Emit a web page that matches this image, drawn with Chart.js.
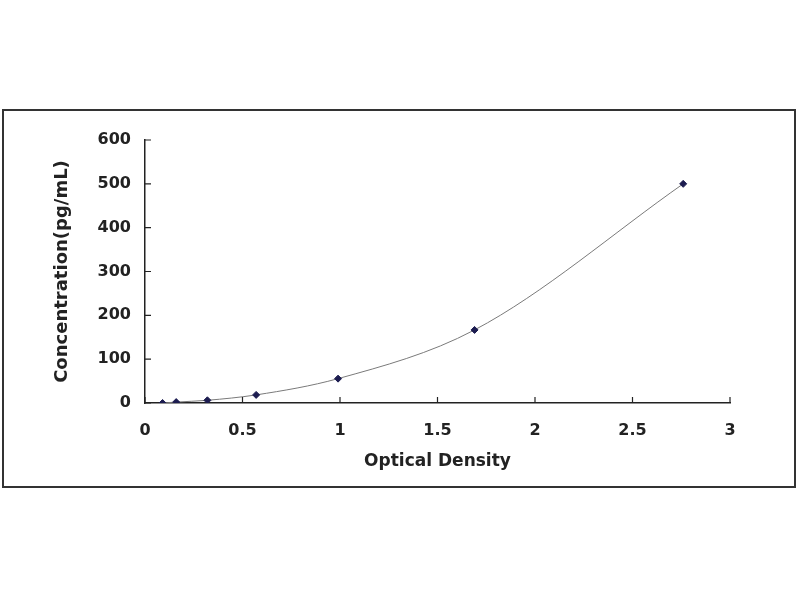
<!DOCTYPE html>
<html>
<head>
<meta charset="utf-8">
<script src="https://cdn.jsdelivr.net/npm/chart.js@4.4.1/dist/chart.umd.min.js"></script>
<style>
  html, body { margin: 0; padding: 0; background: #fff; }
  #wrap { width: 800px; height: 600px; }
</style>
</head>
<body>
<div id="wrap"><canvas id="curve" width="800" height="600"></canvas></div>
<script>
// standard curve points
const opticalDensity = [0.09, 0.16, 0.32, 0.57, 0.99, 1.69, 2.76];
const concentration = [0, 2.1, 6.2, 18.5, 55.6, 166.7, 500];
const xTicks = [0, 0.5, 1, 1.5, 2, 2.5, 3];
const yTicks = [0, 100, 200, 300, 400, 500, 600];

const FONT = 'DejaVu Sans, Verdana, sans-serif';

// outer frame + inward tick marks
const framePlugin = {
  id: 'frame',
  afterDraw(chart) {
    const c = chart.ctx;
    const xs = chart.scales.x, ys = chart.scales.y;
    c.save();
    c.strokeStyle = '#333';
    c.lineWidth = 2;
    c.strokeRect(3, 110, 792, 377);
    c.lineWidth = 1.2;
    c.strokeStyle = '#222';
    c.beginPath();
    xTicks.forEach(v => {
      const px = xs.getPixelForValue(v);
      c.moveTo(px, ys.bottom);
      c.lineTo(px, ys.bottom - 6);
    });
    yTicks.forEach(v => {
      const py = ys.getPixelForValue(v);
      c.moveTo(xs.left, py);
      c.lineTo(xs.left + 6, py);
    });
    c.stroke();
    c.restore();
  }
};

const ctx = document.getElementById('curve').getContext('2d');
new Chart(ctx, {
  type: 'scatter',
  data: {
    datasets: [{
      label: 'Standard',
      data: opticalDensity.map((x, i) => ({ x: x, y: concentration[i] })),
      showLine: true,
      cubicInterpolationMode: 'monotone',
      borderColor: '#7a7a7a',
      borderWidth: 1,
      pointStyle: 'rectRot',
      pointRadius: 3.5,
      pointBackgroundColor: '#1c1c50',
      pointBorderColor: '#1c1c50'
    }]
  },
  plugins: [framePlugin],
  options: {
    responsive: false,
    animation: false,
    layout: { padding: { left: 0, top: 140, right: 70, bottom: 112 } },
    plugins: {
      legend: { display: false },
      tooltip: { enabled: false }
    },
    scales: {
      x: {
        type: 'linear',
        min: 0,
        max: 3,
        afterBuildTicks: s => { s.ticks = xTicks.map(v => ({ value: v })); },
        afterFit: s => { s.height = 85; },
        grid: { display: false, drawTicks: false },
        border: { display: true, color: '#222', width: 1.5 },
        ticks: {
          padding: 18,
          color: '#222',
          callback: v => String(v),
          font: { family: FONT, size: 16, weight: 'bold' }
        },
        title: {
          display: true,
          text: 'Optical Density',
          color: '#222',
          padding: { top: 0, bottom: 16 },
          font: { family: FONT, size: 17, weight: 'bold' }
        }
      },
      y: {
        type: 'linear',
        min: 0,
        max: 600,
        afterBuildTicks: s => { s.ticks = yTicks.map(v => ({ value: v })); },
        afterFit: s => { s.width = 145; },
        grid: { display: false, drawTicks: false },
        border: { display: true, color: '#222', width: 1.5 },
        ticks: {
          padding: 14,
          color: '#222',
          callback: v => String(v),
          font: { family: FONT, size: 16, weight: 'bold' }
        },
        title: {
          display: true,
          text: 'Concentration(pg/mL)',
          color: '#222',
          padding: { top: 52, bottom: 0 },
          font: { family: FONT, size: 18, weight: 'bold' }
        }
      }
    }
  }
});
</script>
</body>
</html>
